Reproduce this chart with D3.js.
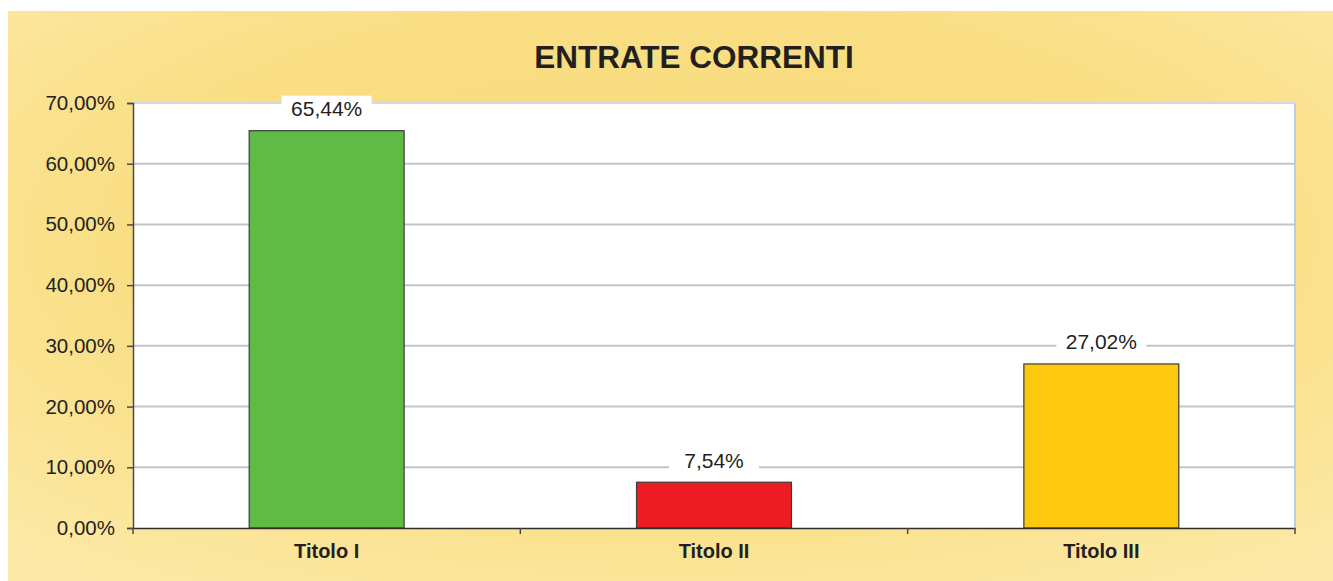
<!DOCTYPE html>
<html>
<head>
<meta charset="utf-8">
<script src="https://cdn.jsdelivr.net/npm/d3@7"></script>
<style>
  body { margin: 0; background: #fff; }
  svg { display: block; font-family: "Liberation Sans", Arial, sans-serif; }
</style>
</head>
<body>
<svg id="chart" width="1333" height="581"></svg>
<script>
const title = "ENTRATE CORRENTI";
const categories = ["Titolo I", "Titolo II", "Titolo III"];
const values = [65.44, 7.54, 27.02];
const barColors = ["#60bb46", "#ed1c24", "#fcc910"];
const yTicks = [0, 10, 20, 30, 40, 50, 60, 70];

const svg = d3.select("#chart");
const margin = { top: 103, right: 38, bottom: 53, left: 133 };
const width = +svg.attr("width");
const height = +svg.attr("height");
const innerWidth = width - margin.left - margin.right;
const innerHeight = height - margin.top - margin.bottom;

const fmt = v => d3.format(".2f")(v).replace(".", ",") + "%";

// yellow background with a soft glow in the middle
const defs = svg.append("defs");
const grad = defs.append("radialGradient")
  .attr("id", "bg")
  .attr("cx", "50%").attr("cy", "40%")
  .attr("r", "75%");
grad.append("stop").attr("offset", "0%").attr("stop-color", "#f7da7a");
grad.append("stop").attr("offset", "55%").attr("stop-color", "#f9de84");
grad.append("stop").attr("offset", "100%").attr("stop-color", "#fdeaa8");

svg.append("rect")
  .attr("x", 8).attr("y", 11)
  .attr("width", width - 8).attr("height", height - 11)
  .attr("fill", "url(#bg)");

svg.append("text")
  .attr("x", 694).attr("y", 68)
  .attr("text-anchor", "middle")
  .attr("font-size", 31.5)
  .attr("font-weight", "bold")
  .attr("fill", "#231f20")
  .text(title);

const x = d3.scaleBand().domain(categories).range([0, innerWidth]).paddingInner(0).paddingOuter(0);
const y = d3.scaleLinear().domain([0, 70]).range([innerHeight, 0]);

const g = svg.append("g").attr("transform", `translate(${margin.left},${margin.top})`);

// plot area
g.append("rect")
  .attr("width", innerWidth).attr("height", innerHeight)
  .attr("fill", "#fff");

// gridlines
g.append("g")
  .selectAll("line")
  .data(yTicks.filter(d => d > 0))
  .join("line")
  .attr("x1", 0).attr("x2", innerWidth)
  .attr("y1", d => y(d)).attr("y2", d => y(d))
  .attr("stroke", d => d === 70 ? "#d6d6e6" : "#c4c4c8")
  .attr("stroke-width", 2);

// right edge of plot
g.append("line")
  .attr("x1", innerWidth).attr("x2", innerWidth)
  .attr("y1", 0).attr("y2", innerHeight)
  .attr("stroke", "#bccbe6").attr("stroke-width", 2);

// bars
const barW = x.bandwidth() * 0.4;
g.selectAll(".bar")
  .data(values)
  .join("rect")
  .attr("class", "bar")
  .attr("x", (d, i) => x(categories[i]) + (x.bandwidth() - barW) / 2)
  .attr("y", d => y(d))
  .attr("width", barW)
  .attr("height", d => innerHeight - y(d))
  .attr("fill", (d, i) => barColors[i])
  .attr("stroke", "#3a3a3a")
  .attr("stroke-width", 1.2);

// data labels with white boxes
const labels = g.selectAll(".lbl")
  .data(values)
  .join("g")
  .attr("class", "lbl")
  .attr("transform", (d, i) => `translate(${x(categories[i]) + x.bandwidth() / 2},${y(d) - 22})`);
labels.append("rect")
  .attr("x", -45).attr("y", -13)
  .attr("width", 90).attr("height", 31)
  .attr("fill", "#fff");
labels.append("text")
  .attr("text-anchor", "middle")
  .attr("dy", "0.35em")
  .attr("font-size", 21)
  .attr("fill", "#231f20")
  .text(d => fmt(d));

// y axis
const yAxis = g.append("g")
  .call(d3.axisLeft(y).tickValues(yTicks).tickSize(6).tickPadding(12).tickFormat(fmt));
yAxis.select(".domain").attr("stroke", "#4a4a4a").attr("stroke-width", 1.5);
yAxis.selectAll(".tick line").attr("stroke", "#4a4a4a").attr("stroke-width", 1.5);
yAxis.selectAll("text")
  .attr("font-size", 20.5)
  .attr("fill", "#231f20")
  .attr("font-family", "Liberation Sans, Arial, sans-serif");

// x axis
const xAxis = g.append("g")
  .attr("transform", `translate(0,${innerHeight})`)
  .call(d3.axisBottom(x).tickSize(0).tickPadding(16));
xAxis.select(".domain").attr("stroke", "#2e2e2e").attr("stroke-width", 1.5);
xAxis.selectAll("text")
  .attr("font-size", 20)
  .attr("font-weight", "bold")
  .attr("fill", "#231f20")
  .attr("font-family", "Liberation Sans, Arial, sans-serif");

// category boundary ticks
xAxis.append("g")
  .selectAll("line")
  .data(d3.range(categories.length + 1))
  .join("line")
  .attr("x1", i => i * x.step()).attr("x2", i => i * x.step())
  .attr("y1", 0).attr("y2", 6)
  .attr("stroke", "#4a4a4a").attr("stroke-width", 1.5);
</script>
</body>
</html>
